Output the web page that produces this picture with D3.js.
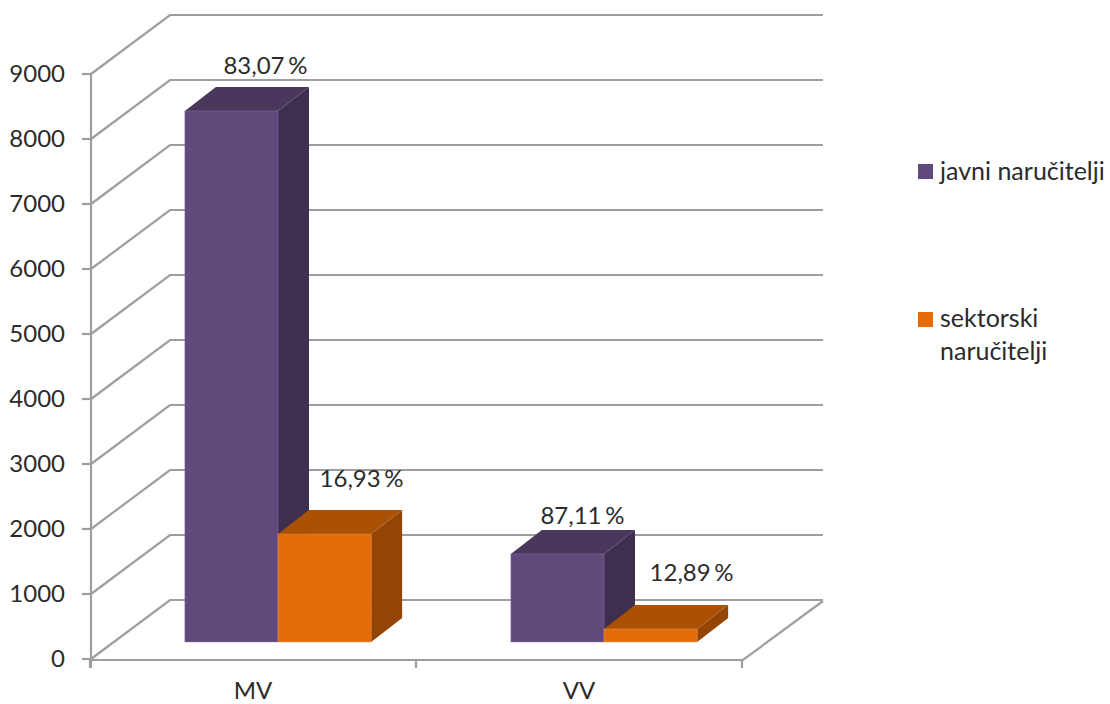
<!DOCTYPE html>
<html>
<head>
<meta charset="utf-8">
<script src="https://cdn.jsdelivr.net/npm/d3@7"></script>
<style>
  html, body { margin: 0; padding: 0; background: #fff; }
  text { font-family: Lato, "Open Sans", sans-serif; fill: #2b2b2b; }
</style>
</head>
<body>
<div id="canevas"></div>
<script>
// data
const categories = ["MV", "VV"];
const series = ["javni naručitelji", "sektorski naručitelji"];
const javni = [8170, 1354];
const sektorski = [1660, 200];
const javniLabels = ["83,07 %", "87,11 %"];
const sektorskiLabels = ["16,93 %", "12,89 %"];
const yTicks = [0, 1000, 2000, 3000, 4000, 5000, 6000, 7000, 8000, 9000];

const largeur = 1110, hauteur = 704;

// colours: front, top, side, edge
const couleurs = [
  { front: "#604a7b", top: "#4a385c", side: "#3f2f4f", bord: "#8d7ba3" },
  { front: "#e46c0a", top: "#ab5106", side: "#944506", bord: "#f09a55" }
];

// 3d projection of the box: offset of the back wall and of the bars
const murX = 79, murY = -59, murFin = 823;
const barreX = 25, barreY = -17;
const profX = 31, profY = -24;

const svg = d3.select("#canevas").append("svg")
  .attr("width", largeur)
  .attr("height", hauteur)
  .style("display", "block");

// scales
const echelleY = d3.scaleLinear().domain([0, 9000]).range([659, 74]);
const echelleX = d3.scaleBand().domain(categories).range([90, 742]);
const echelleS = d3.scaleBand().domain(series).range([0, echelleX.bandwidth()]).paddingOuter(0.75).paddingInner(0);

const gris = "#9e9e9e";

// gridlines on left wall and back wall
const grille = svg.append("g").attr("fill", "none").attr("stroke", gris).attr("stroke-width", 2.2);
grille.selectAll("path")
  .data(yTicks)
  .enter()
  .append("path")
  .attr("d", d => {
    const y = echelleY(d);
    return `M91,${y}L${91 + murX},${y + murY}H${murFin}`;
  });

// floor
const x0 = echelleX.range()[0], x1 = echelleX.range()[1], y0 = echelleY(0) + 1;
grille.append("path")
  .attr("d", `M${x0},${y0}H${x1 + 1}L${murFin},${y0 + murY}`);

// axes
grille.append("line")
  .attr("x1", 91).attr("x2", 91)
  .attr("y1", echelleY(9000)).attr("y2", y0 + 8);

grille.selectAll("line.ty")
  .data(yTicks)
  .enter()
  .append("line")
  .attr("class", "ty")
  .attr("x1", 82).attr("x2", 91)
  .attr("y1", d => echelleY(d)).attr("y2", d => echelleY(d));

grille.selectAll("line.tx")
  .data(d3.range(categories.length + 1))
  .enter()
  .append("line")
  .attr("class", "tx")
  .attr("x1", d => x0 + d * echelleX.step())
  .attr("x2", d => x0 + d * echelleX.step())
  .attr("y1", y0).attr("y2", y0 + 8);

svg.selectAll("text.ylab")
  .data(yTicks)
  .enter()
  .append("text")
  .attr("class", "ylab")
  .attr("x", 65)
  .attr("y", d => echelleY(d) + 8)
  .attr("text-anchor", "end")
  .attr("font-size", 24)
  .text(d => d);

svg.selectAll("text.xlab")
  .data(categories)
  .enter()
  .append("text")
  .attr("class", "xlab")
  .attr("x", d => echelleX(d) + echelleX.bandwidth() / 2)
  .attr("y", 699)
  .attr("text-anchor", "middle")
  .attr("font-size", 24)
  .text(d => d);

// bars
function barre(serie, idx, valeurs) {
  const g = svg.append("g");
  categories.forEach((c, i) => {
    const gauche = echelleX(c) + echelleS(serie) + barreX;
    const droite = gauche + echelleS.bandwidth();
    const bas = echelleY(0) + barreY;
    const haut = echelleY(valeurs[i]) + barreY;
    const col = couleurs[idx];
    g.append("path").attr("fill", col.side)
      .attr("d", `M${droite},${haut}L${droite + profX},${haut + profY}V${bas + profY}L${droite},${bas}Z`);
    g.append("path").attr("fill", col.top)
      .attr("d", `M${gauche},${haut}L${gauche + profX},${haut + profY}H${droite + profX}L${droite},${haut}Z`);
    g.append("rect").attr("fill", col.front)
      .attr("stroke", col.bord).attr("stroke-opacity", 0.45)
      .attr("x", gauche).attr("y", haut)
      .attr("width", droite - gauche).attr("height", bas - haut);
  });
}
barre(series[0], 0, javni);
barre(series[1], 1, sektorski);

// value labels, shifted from the front top corner of each bar
const decalageX = [[34, 25], [37, 41]];
const decalageY = [[-37, -30], [-47, -48]];
[javniLabels, sektorskiLabels].forEach((labels, s) => {
  const valeurs = s === 0 ? javni : sektorski;
  svg.selectAll(`text.val${s}`)
    .data(labels)
    .enter()
    .append("text")
    .attr("class", `val${s}`)
    .attr("x", (d, i) => echelleX(categories[i]) + echelleS(series[s]) + barreX + echelleS.bandwidth() / 2 + decalageX[s][i])
    .attr("y", (d, i) => echelleY(valeurs[i]) + barreY + decalageY[s][i])
    .attr("text-anchor", "middle")
    .attr("font-size", 24)
    .attr("word-spacing", -2.5)
    .text(d => d);
});

// legend
const legende = [
  { y: 172, lignes: ["javni naručitelji"] },
  { y: 320, lignes: ["sektorski", "naručitelji"] }
];
legende.forEach((l, i) => {
  svg.append("rect")
    .attr("x", 918).attr("y", l.y - 8)
    .attr("width", 15).attr("height", 15)
    .attr("fill", couleurs[i].front);
  l.lignes.forEach((t, j) => {
    svg.append("text")
      .attr("x", 940)
      .attr("y", 180 + (i === 0 ? 0 : 147) + j * 33)
      .attr("font-size", 25)
      .text(t);
  });
});
</script>
</body>
</html>
